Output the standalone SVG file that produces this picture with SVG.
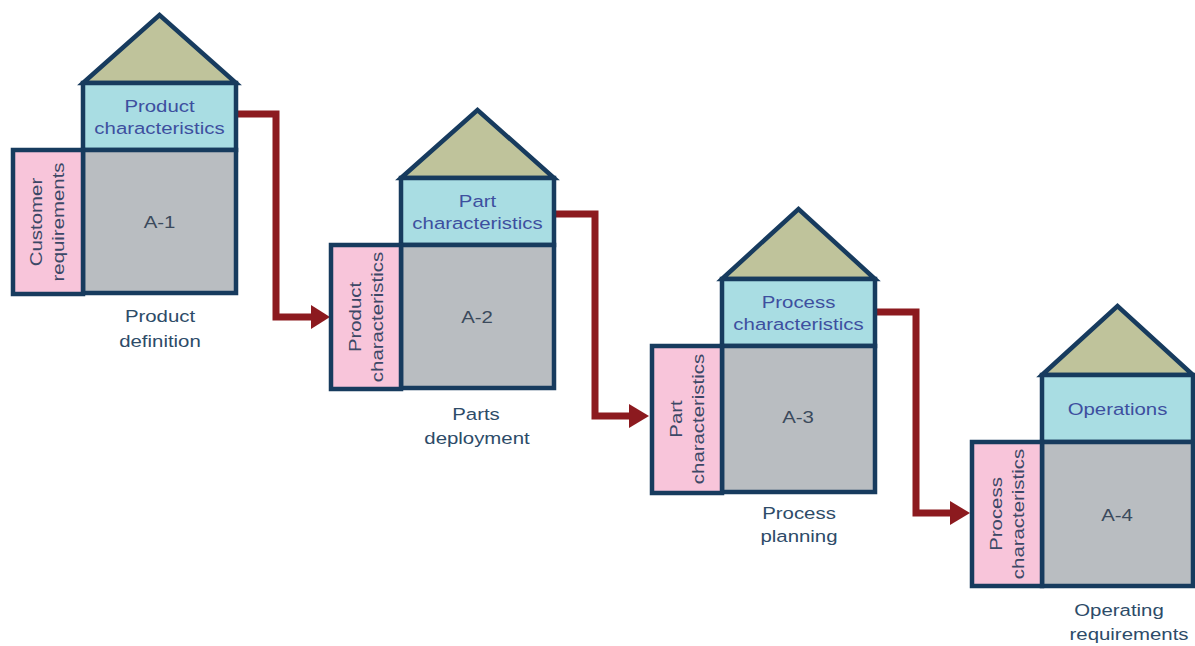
<svg xmlns="http://www.w3.org/2000/svg" width="1195" height="646" viewBox="0 0 1195 646">
  <style>
    .roof { fill: #bfc39b; stroke: #173b5e; stroke-width: 4.5; stroke-linejoin: miter; }
    .head { fill: #a9dde3; stroke: #173b5e; stroke-width: 4.5; }
    .body { fill: #b9bdc1; stroke: #173b5e; stroke-width: 4.5; }
    .side { fill: #f8c5da; stroke: #173b5e; stroke-width: 4.5; }
    text { font-family: "Liberation Sans", Arial, sans-serif; font-size: 17px; text-anchor: middle; }
    .t-head { fill: #3d4f9f; }
    .t-body { fill: #3b4a5c; }
    .t-side { fill: #3c4866; }
    .t-cap { fill: #2d4b68; }
    .flow { fill: none; stroke: #8c1a1f; stroke-width: 7; stroke-linejoin: miter; }
    .tip { fill: #8c1a1f; }
  </style>

  <!-- flow connectors between stages -->
  <g id="connectors">
    <path class="flow" d="M238,114 H276 V317 H314"/>
    <polygon class="tip" points="311,305 330,317 311,329"/>
    <path class="flow" d="M556,214 H595 V416 H632"/>
    <polygon class="tip" points="629,404 649,416 629,428"/>
    <path class="flow" d="M877,312 H916 V513 H953"/>
    <polygon class="tip" points="950,501 970,513 950,525"/>
  </g>

  <!-- Stage A-1 -->
  <g id="house-a1">
    <polygon class="roof" points="83,83 159.5,15 236,83"/>
    <rect class="head" x="83" y="83" width="153" height="67"/>
    <rect class="body" x="83" y="150" width="153" height="143"/>
    <rect class="side" x="13" y="150" width="70" height="144"/>
    <text class="t-head" transform="translate(159.5,112) scale(1.2,1)">Product</text>
    <text class="t-head" transform="translate(159.5,133.5) scale(1.2,1)">characteristics</text>
    <text class="t-body" transform="translate(159.5,228) scale(1.2,1)">A-1</text>
    <text class="t-side" transform="translate(48,222) rotate(-90) scale(1.2,1)" y="-6">Customer</text>
    <text class="t-side" transform="translate(48,222) rotate(-90) scale(1.2,1)" y="16">requirements</text>
    <text class="t-cap" transform="translate(160,322) scale(1.2,1)">Product</text>
    <text class="t-cap" transform="translate(160,347) scale(1.2,1)">definition</text>
  </g>

  <!-- Stage A-2 -->
  <g id="house-a2">
    <polygon class="roof" points="401,178 477.5,110 554,178"/>
    <rect class="head" x="401" y="178" width="153" height="67"/>
    <rect class="body" x="401" y="245" width="153" height="143"/>
    <rect class="side" x="331" y="245" width="70" height="144"/>
    <text class="t-head" transform="translate(477.5,207) scale(1.2,1)">Part</text>
    <text class="t-head" transform="translate(477.5,228.5) scale(1.2,1)">characteristics</text>
    <text class="t-body" transform="translate(477,323) scale(1.2,1)">A-2</text>
    <text class="t-side" transform="translate(366,317) rotate(-90) scale(1.2,1)" y="-5">Product</text>
    <text class="t-side" transform="translate(366,317) rotate(-90) scale(1.2,1)" y="17">characteristics</text>
    <text class="t-cap" transform="translate(476,420) scale(1.2,1)">Parts</text>
    <text class="t-cap" transform="translate(477,444) scale(1.2,1)">deployment</text>
  </g>

  <!-- Stage A-3 -->
  <g id="house-a3">
    <polygon class="roof" points="722,279 798.5,209 875,279"/>
    <rect class="head" x="722" y="279" width="153" height="67"/>
    <rect class="body" x="722" y="346" width="153" height="146"/>
    <rect class="side" x="652" y="346" width="70" height="147"/>
    <text class="t-head" transform="translate(798.5,308) scale(1.2,1)">Process</text>
    <text class="t-head" transform="translate(798.5,329.5) scale(1.2,1)">characteristics</text>
    <text class="t-body" transform="translate(798,423) scale(1.2,1)">A-3</text>
    <text class="t-side" transform="translate(687,419) rotate(-90) scale(1.2,1)" y="-5">Part</text>
    <text class="t-side" transform="translate(687,419) rotate(-90) scale(1.2,1)" y="17">characteristics</text>
    <text class="t-cap" transform="translate(799,519) scale(1.2,1)">Process</text>
    <text class="t-cap" transform="translate(799,542) scale(1.2,1)">planning</text>
  </g>

  <!-- Stage A-4 -->
  <g id="house-a4">
    <polygon class="roof" points="1042,375 1117.5,306 1193,375"/>
    <rect class="head" x="1042" y="375" width="151" height="67"/>
    <rect class="body" x="1042" y="442" width="151" height="144"/>
    <rect class="side" x="972" y="442" width="70" height="144"/>
    <text class="t-head" transform="translate(1117.5,414.5) scale(1.2,1)">Operations</text>
    <text class="t-body" transform="translate(1117,521) scale(1.2,1)">A-4</text>
    <text class="t-side" transform="translate(1007,514) rotate(-90) scale(1.2,1)" y="-5">Process</text>
    <text class="t-side" transform="translate(1007,514) rotate(-90) scale(1.2,1)" y="17">characteristics</text>
    <text class="t-cap" transform="translate(1119,616) scale(1.2,1)">Operating</text>
    <text class="t-cap" transform="translate(1129,640) scale(1.2,1)">requirements</text>
  </g>
</svg>
